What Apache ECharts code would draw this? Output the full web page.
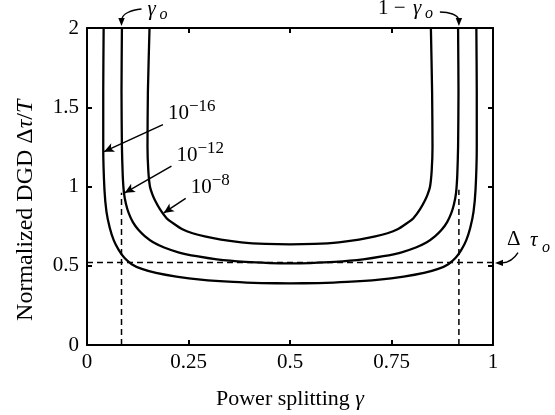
<!DOCTYPE html>
<html>
<head>
<meta charset="utf-8">
<script src="https://cdn.jsdelivr.net/npm/echarts@6/dist/echarts.min.js"></script>
<style>
  html, body { margin: 0; padding: 0; background: #fff; }
  #chart { width: 555px; height: 415px; }
</style>
</head>
<body>
<div id="chart"></div>
<script>
// Normalized DGD vs power splitting, three error-probability contours.
const FONT = "Liberation Serif"
const INK = "#000"

// [gamma, dgd]
const curve16 = [
  [0.041, 2.0], [0.040, 1.6], [0.040, 1.25], [0.043, 0.98], [0.048, 0.84],
  [0.056, 0.74], [0.066, 0.66], [0.078, 0.60], [0.092, 0.55], [0.11, 0.51],
  [0.135, 0.48], [0.17, 0.455], [0.22, 0.432], [0.28, 0.413], [0.36, 0.398],
  [0.43, 0.391], [0.5, 0.389], [0.57, 0.391], [0.64, 0.398], [0.72, 0.413],
  [0.78, 0.432], [0.83, 0.455], [0.865, 0.48], [0.89, 0.51], [0.908, 0.55],
  [0.922, 0.60], [0.934, 0.66], [0.944, 0.74], [0.952, 0.84], [0.957, 0.98],
  [0.960, 1.25], [0.960, 1.6], [0.959, 2.0],
]
const curve12 = [
  [0.086, 2.0], [0.085, 1.6], [0.086, 1.25], [0.088, 1.07], [0.091, 0.96],
  [0.096, 0.89], [0.103, 0.83], [0.113, 0.775], [0.126, 0.728], [0.143, 0.685],
  [0.163, 0.648], [0.19, 0.615], [0.225, 0.585], [0.27, 0.56], [0.32, 0.54],
  [0.39, 0.524], [0.45, 0.517], [0.5, 0.515], [0.55, 0.517], [0.61, 0.524],
  [0.68, 0.54], [0.73, 0.56], [0.775, 0.585], [0.81, 0.615], [0.837, 0.648],
  [0.857, 0.685], [0.874, 0.728], [0.887, 0.775], [0.897, 0.83], [0.904, 0.89],
  [0.909, 0.96], [0.912, 1.07], [0.914, 1.25], [0.915, 1.6], [0.914, 2.0],
]
const curve8 = [
  [0.154, 2.0], [0.150, 1.6], [0.149, 1.25], [0.151, 1.1], [0.155, 1.0],
  [0.161, 0.95], [0.168, 0.91], [0.18, 0.855], [0.196, 0.80], [0.214, 0.765],
  [0.235, 0.73], [0.26, 0.705], [0.29, 0.685], [0.33, 0.665], [0.38, 0.648],
  [0.44, 0.638], [0.5, 0.635], [0.56, 0.638], [0.62, 0.648], [0.67, 0.665],
  [0.71, 0.685], [0.74, 0.705], [0.765, 0.73], [0.786, 0.765], [0.804, 0.80],
  [0.82, 0.855], [0.832, 0.91], [0.839, 0.95], [0.845, 1.0], [0.849, 1.1],
  [0.851, 1.25], [0.850, 1.6], [0.847, 2.0],
]

// reference levels
const gammaLeft = 0.085
const gammaRight = 0.916
const tauO = 0.52
const dashTopLeft = 0.96
const dashTopRight = 0.98

// label arrows [from, to] in data units
const arrow16 = [[0.187, 1.39], [0.042, 1.22]]
const arrow12 = [[0.208, 1.128], [0.093, 0.96]]
const arrow8 = [[0.243, 0.925], [0.189, 0.833]]
const curveLabels = [
  {base: "10", sup: "\u221216", from: arrow16[0]},
  {base: "10", sup: "\u221212", from: arrow12[0]},
  {base: "10", sup: "\u22128", from: arrow8[0]},
]

const frameAxis = (position, labels) => ({
  type: "value",
  position,
  min: 0,
  axisLine: {show: true, onZero: false, lineStyle: {color: INK, width: 2}},
  axisTick: {show: true, inside: true, length: 5, lineStyle: {color: INK, width: 2}},
  axisLabel: labels
    ? {show: true, color: INK, fontFamily: FONT, fontSize: 21}
    : {show: false},
  splitLine: {show: false},
})

const curveSeries = (data) => ({
  type: "line",
  data,
  showSymbol: false,
  smooth: 0.2,
  lineStyle: {color: INK, width: 2.3},
  silent: true,
})

const dashSeries = (data) => ({
  type: "line",
  data,
  showSymbol: false,
  lineStyle: {color: INK, width: 1.5, type: [6, 4]},
  silent: true,
})

const arrowLine = (a) => [{coord: a[0]}, {coord: a[1]}]

const option = {
  animation: false,
  grid: {left: 87, right: 62, top: 28, bottom: 69},
  xAxis: [
    {
      ...frameAxis("bottom", true),
      max: 1,
      interval: 0.25,
      axisLabel: {show: true, color: INK, fontFamily: FONT, fontSize: 21, margin: 7},
      name: "Power splitting {i|\u03b3}",
      nameLocation: "middle",
      nameGap: 43,
      nameTextStyle: {
        color: INK, fontFamily: FONT, fontSize: 22,
        rich: {i: {fontStyle: "italic", fontFamily: FONT, fontSize: 22, color: INK}},
      },
    },
    {...frameAxis("top", false), max: 1, interval: 0.25},
  ],
  yAxis: [
    {
      ...frameAxis("left", true),
      max: 2,
      interval: 0.5,
      axisLabel: {show: true, color: INK, fontFamily: FONT, fontSize: 21, margin: 8},
    },
    {...frameAxis("right", false), max: 2, interval: 0.5},
  ],
  series: [
    curveSeries(curve16),
    curveSeries(curve12),
    curveSeries(curve8),
    dashSeries([[0, tauO], [1, tauO]]),
    dashSeries([[gammaLeft, 0], [gammaLeft, dashTopLeft]]),
    {
      ...dashSeries([[gammaRight, 0], [gammaRight, dashTopRight]]),
      markLine: {
        silent: true,
        symbol: ["none", "arrow"],
        symbolSize: [7, 10],
        label: {show: false},
        lineStyle: {color: INK, width: 1.5, type: "solid"},
        data: [arrowLine(arrow16), arrowLine(arrow12), arrowLine(arrow8)],
      },
    },
  ],
}

const chart = echarts.init(document.getElementById("chart"))
chart.setOption(option)

// annotations placed relative to axis positions
const px = (p) => chart.convertToPixel({gridIndex: 0}, p)
const text = (str, x, y, size, italic, extra = {}) => ({
  type: "text",
  silent: true,
  style: {
    text: str, x, y, fill: INK,
    font: `${italic ? "italic " : ""}${size}px "${FONT}"`,
    align: "left", verticalAlign: "middle", ...extra,
  },
})
const head = (tip, dx, dy, len = 8, half = 3.2) => {
  const n = Math.hypot(dx, dy)
  const ux = dx / n, uy = dy / n
  const bx = tip[0] - ux * len, by = tip[1] - uy * len
  return {
    type: "polygon", silent: true,
    shape: {points: [tip, [bx - uy * half, by + ux * half], [bx + uy * half, by - ux * half]]},
    style: {fill: INK},
  }
}
const bez = (p0, c1, c2, p1) => ({
  type: "bezierCurve", silent: true,
  shape: {x1: p0[0], y1: p0[1], cpx1: c1[0], cpy1: c1[1], cpx2: c2[0], cpy2: c2[1], x2: p1[0], y2: p1[1]},
  style: {stroke: INK, lineWidth: 1.4, fill: null},
})

const graphic = []
curveLabels.forEach((l) => {
  const p = px(l.from)
  graphic.push(text(l.base, p[0] + 5, p[1] - 11, 21, false))
  graphic.push(text(l.sup, p[0] + 26, p[1] - 18, 17, false))
})

// y axis title, centred a little below the plot middle like the source
const yMid = px([0, 0.85])
graphic.push({
  type: "text",
  silent: true,
  x: 26,
  y: yMid[1],
  rotation: Math.PI / 2,
  style: {
    text: "Normalized DGD \u0394{i|\u03c4}/{i|T}",
    fill: INK,
    font: `24px "${FONT}"`,
    align: "center",
    verticalAlign: "middle",
    rich: {i: {fontStyle: "italic", fontFamily: FONT, fontSize: 24, fill: INK}},
  },
})

// gamma_o at top left
const tl = px([gammaLeft, 2])
graphic.push(bez([tl[0] + 20, tl[1] - 19], [tl[0] + 9, tl[1] - 18], [tl[0] + 1, tl[1] - 14], [tl[0] + 0.5, tl[1] - 9]))
graphic.push(head([tl[0], tl[1] - 2], 0, 1))
graphic.push(text("\u03b3", tl[0] + 26, tl[1] - 19, 21, true))
graphic.push(text("o", tl[0] + 38, tl[1] - 13, 16, true))

// 1 - gamma_o at top right
const tr = px([gammaRight, 2])
graphic.push(bez([tr[0] - 19, tr[1] - 16], [tr[0] - 9, tr[1] - 16], [tr[0] - 1.5, tr[1] - 13], [tr[0] - 0.5, tr[1] - 9]))
graphic.push(head([tr[0], tr[1] - 2], 0, 1))
graphic.push(text("1 \u2212 ", tr[0] - 81, tr[1] - 20, 21, false))
graphic.push(text("\u03b3", tr[0] - 46, tr[1] - 20, 21, true))
graphic.push(text("o", tr[0] - 34, tr[1] - 14, 16, true))

// delta tau_o at right
const rt = px([1, tauO])
graphic.push(bez([rt[0] + 25, rt[1] - 10], [rt[0] + 20, rt[1] - 2], [rt[0] + 14, rt[1]], [rt[0] + 9, rt[1] + 0.3]))
graphic.push(head([rt[0] + 2, rt[1] + 0.3], -1, 0))
graphic.push(text("\u0394", rt[0] + 14, rt[1] - 23, 21, false))
graphic.push(text("\u03c4", rt[0] + 37, rt[1] - 22, 21, true))
graphic.push(text("o", rt[0] + 49, rt[1] - 15, 16, true))

chart.setOption({graphic})
</script>
</body>
</html>
